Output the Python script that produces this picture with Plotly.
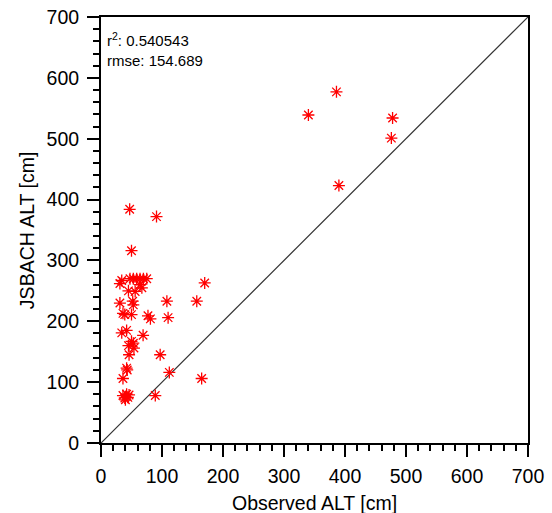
import plotly.graph_objects as go

# Observed vs. simulated active layer thickness (cm)
observed_alt = [
    386, 340, 478, 476, 390,
    47, 91, 50,
    47.5, 53, 58.5, 64, 69.5, 75,
    34, 31, 170,
    64, 45, 56, 67,
    31, 52, 53, 108, 157,
    36, 39, 50, 77, 81, 110,
    34, 42, 69,
    50, 53, 45, 54,
    46, 97,
    42, 43, 112,
    36, 165,
    36, 39, 42, 44, 46, 40,
    89,
]
jsbach_alt = [
    577, 539, 534, 501, 423,
    384, 372, 316,
    270, 270, 270, 270, 270, 270,
    267, 262, 263,
    260, 250, 249, 255,
    230, 233, 227, 233, 233,
    213, 211, 211, 209, 204, 206,
    181, 185, 177,
    167, 164, 160, 156,
    145, 145,
    123, 120, 116,
    106, 106,
    78, 74, 80, 75, 79, 71,
    78,
]
tick_vals = [0, 100, 200, 300, 400, 500, 600, 700]
one_to_one = [0, 700]
stats_text = ["r<sup>2</sup>: 0.540543", "rmse: 154.689"]
x_title = "Observed ALT [cm]"
y_title = "JSBACH ALT [cm]"

FONT = "Liberation Sans, Arial, Helvetica, sans-serif"

fig = go.Figure()

# 1:1 reference line
fig.add_trace(go.Scatter(
    x=one_to_one, y=one_to_one, mode="lines",
    line=dict(color="#333333", width=1.2),
    hoverinfo="skip", showlegend=False,
))

# Station points
fig.add_trace(go.Scatter(
    x=observed_alt, y=jsbach_alt, mode="markers",
    marker=dict(symbol="asterisk-open", size=10, color="red",
                line=dict(color="red", width=1.3)),
    showlegend=False,
))

axis_common = dict(
    range=[0, 700], tickvals=tick_vals, showgrid=False, zeroline=False,
    showline=True, linecolor="black", linewidth=2, mirror=True,
    ticks="outside", ticklen=12, tickwidth=2, tickcolor="black",
    tickfont=dict(family=FONT, size=19.5, color="black"),
    minor=dict(ticks="outside", ticklen=6, tickwidth=1.5, tickcolor="black",
               dtick=20, showgrid=False),
    automargin=False,
)

fig.update_xaxes(**axis_common, ticklabelstandoff=3)
fig.update_yaxes(**axis_common, ticklabelstandoff=4)

# Axis titles, placed in paper coordinates
fig.add_annotation(
    x=0.5, y=-0.141, xref="paper", yref="paper", xanchor="center", yanchor="middle",
    text=x_title, showarrow=False,
    font=dict(family=FONT, size=19.5, color="black"),
)
fig.add_annotation(
    x=-0.173, y=0.5, xref="paper", yref="paper", xanchor="center", yanchor="middle",
    text=y_title, showarrow=False, textangle=-90,
    font=dict(family=FONT, size=19.5, color="black"),
)

# Fit statistics
fig.add_annotation(
    x=0.01, y=0.975, xref="paper", yref="paper", xanchor="left", yanchor="top",
    text="<br>".join(stats_text), showarrow=False, align="left",
    font=dict(family=FONT, size=15, color="black"),
)

fig.update_layout(
    width=552, height=513,
    margin=dict(l=101, r=24, t=17, b=70),
    paper_bgcolor="white", plot_bgcolor="white",
)

fig.write_html("out.html")
